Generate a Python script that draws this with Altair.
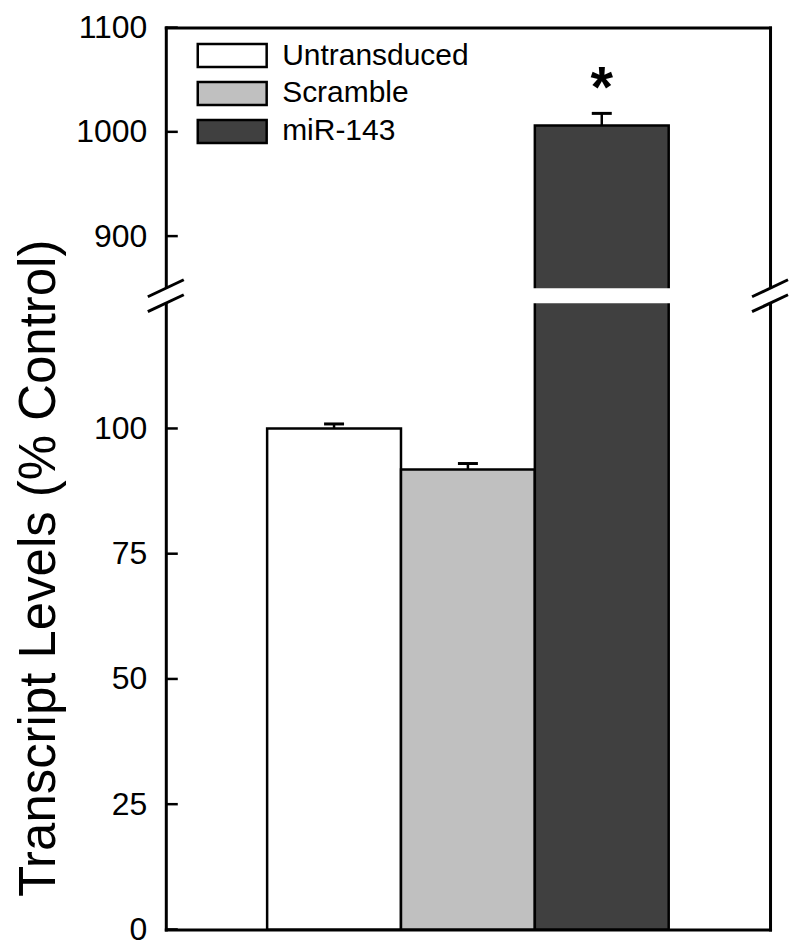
import altair as alt
import pandas as pd

categories = ["Untransduced", "Scramble", "miR-143"]
values = [100.0, 91.8, 1006.0]
errors = [0.9, 1.2, 11.7]
colors = ["#ffffff", "#c0c0c0", "#404040"]
significance = ["", "", "*"]
tick_values = [0, 25, 50, 75, 100, 900, 1000, 1100]
break_low = 125
break_high = 850
y_max = 1100

W, H = 605, 903
lower_top_px = 276
upper_bottom_px = 261
FONT = "Liberation Sans"

df = pd.DataFrame({
    "cat": categories,
    "value": values,
    "err": errors,
    "top": [v + e for v, e in zip(values, errors)],
    "sig": significance,
})
ticks_df = pd.DataFrame({"t": tick_values})
gap_df = pd.DataFrame({"lo": [break_low], "hi": [break_high]})

yscale = alt.Scale(domain=[0, break_low, break_high, y_max],
                   range=[H, lower_top_px, upper_bottom_px, 0], nice=False, zero=False)
xscale = alt.Scale(domain=categories, paddingInner=0, paddingOuter=0.757)
color_scale = alt.Scale(domain=categories, range=colors)

frame_axis = dict(domainColor="black", domainWidth=3, grid=False, labels=False,
                  ticks=False, title=None, domainCap="square")

bars = alt.Chart(df).mark_bar(stroke="black", strokeWidth=2.5, opacity=1).encode(
    x=alt.X("cat:N", scale=xscale, sort=categories, axis=alt.Axis(orient="bottom", **frame_axis)),
    y=alt.Y("value:Q", scale=yscale, axis=alt.Axis(
        orient="left", values=tick_values, format="d", ticks=False, labelFontSize=32,
        labelPadding=19, labelColor="black", labelFont=FONT, grid=False,
        title="Transcript Levels (% Control)", titleFontSize=51, titleFontWeight="normal",
        titleFont=FONT, titleColor="black", titleX=-111, titleY=541, titleAngle=270,
        titleBaseline="alphabetic", titleAlign="center",
        domainColor="black", domainWidth=3, domainCap="square")),
    color=alt.Color("cat:N", scale=color_scale, sort=categories, legend=alt.Legend(
        title=None, orient="none", legendX=51.5, legendY=13, padding=0,
        symbolType="M-3,-1H3V1H-3Z", symbolSize=529, symbolStrokeColor="black",
        symbolStrokeWidth=2.5, symbolOpacity=1, labelFontSize=30, labelFont=FONT,
        labelColor="black", labelOffset=35, rowPadding=4, labelLimit=0)),
)

gap = alt.Chart(gap_df).mark_rect(color="white").encode(
    x=alt.value(-7), x2=alt.value(W + 7),
    y=alt.Y("lo:Q", scale=yscale, axis=alt.Axis(orient="right", **frame_axis)),
    y2="hi:Q",
)

stems = alt.Chart(df).mark_rule(color="black", strokeWidth=2.5).encode(
    x=alt.X("cat:N", scale=xscale, sort=categories, axis=alt.Axis(orient="top", **frame_axis)),
    y=alt.Y("value:Q", scale=yscale, axis=None),
    y2="top:Q",
)

caps = alt.Chart(df).mark_tick(color="black", thickness=3, size=20, opacity=1).encode(
    x=alt.X("cat:N", scale=xscale, sort=categories, axis=None),
    y=alt.Y("top:Q", scale=yscale, axis=None),
)

stars = alt.Chart(df).mark_text(fontSize=58, fontWeight="bold", font=FONT, color="black",
                                baseline="alphabetic", dy=-6).encode(
    x=alt.X("cat:N", scale=xscale, sort=categories, axis=None),
    y=alt.Y("top:Q", scale=yscale, axis=None),
    text="sig:N",
)

tick_marks = alt.Chart(ticks_df).mark_rule(color="black", strokeWidth=2.5).encode(
    x=alt.value(0), x2=alt.value(12),
    y=alt.Y("t:Q", scale=yscale, axis=None),
)

slashes = []
for cx in (0, W):
    for cy in (upper_bottom_px, lower_top_px):
        slashes.append(
            alt.Chart(gap_df).mark_rule(color="black", strokeWidth=3).encode(
                x=alt.value(cx - 18), x2=alt.value(cx + 18),
                y=alt.value(cy + 8.5), y2=alt.value(cy - 8.5),
            )
        )

chart = alt.layer(bars, gap, stems, caps, stars, tick_marks, *slashes).resolve_axis(
    x="independent", y="independent"
).properties(
    width=W, height=H,
    padding={"left": 158, "top": 19, "right": 22, "bottom": 16},
    autosize=alt.AutoSizeParams(type="none"),
).configure_view(stroke=None).configure(font=FONT)

chart.save("out.html", embed_options={"renderer": "svg", "actions": False})
